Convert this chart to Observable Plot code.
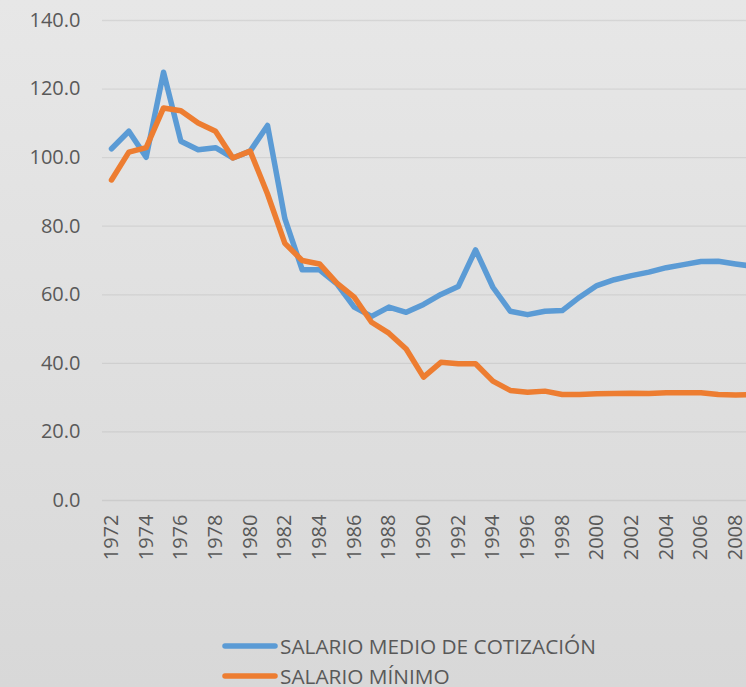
<!DOCTYPE html>
<html>
<head>
<meta charset="utf-8">
<script src="https://cdn.jsdelivr.net/npm/d3@7"></script>
<script src="https://cdn.jsdelivr.net/npm/@observablehq/plot@0.6"></script>
<style>
  html, body { margin: 0; padding: 0; }
  #wrap {
    position: relative; width: 746px; height: 687px; overflow: hidden;
    background: linear-gradient(#e7e7e7, #d8d8d8);
    font-family: "Open Sans", sans-serif;
  }
  #chart { position: absolute; left: 0; top: 0; }
  .legend { position: absolute; left: 222px; color: #595959; font-size: 20.8px; display: flex; align-items: center; white-space: nowrap; line-height: 1; }
  .legend svg { margin-right: 2px; }
</style>
</head>
<body>
<div id="wrap">
  <div id="chart"></div>
</div>
<script>
const years = [1972,1973,1974,1975,1976,1977,1978,1979,1980,1981,1982,1983,1984,1985,1986,1987,1988,1989,1990,1991,1992,1993,1994,1995,1996,1997,1998,1999,2000,2001,2002,2003,2004,2005,2006,2007,2008,2009];
const salarioMedio = [102.6,107.7,100.1,124.9,104.8,102.3,102.9,99.9,101.9,109.4,82.2,67.3,67.3,63.2,56.4,53.7,56.4,54.9,57.2,60.1,62.4,73.1,62.2,55.2,54.2,55.2,55.4,59.3,62.7,64.4,65.6,66.6,67.9,68.8,69.7,69.8,69.0,68.3];
const salarioMinimo = [93.5,101.6,102.9,114.5,113.7,110.1,107.7,99.9,101.9,89.4,75.0,70.0,69.0,63.4,59.3,52.0,48.8,44.2,36.0,40.3,39.9,39.9,34.8,32.1,31.6,31.9,30.9,30.9,31.1,31.2,31.3,31.2,31.4,31.4,31.4,30.9,30.8,30.9];
const seriesNames = ["SALARIO MEDIO DE COTIZACIÓN", "SALARIO MÍNIMO"];
const seriesColors = ["#5b9bd5", "#ed7d31"];
const yTicks = [0,20,40,60,80,100,120,140];
const xTicks = years.filter(y => y % 2 === 0 && y <= 2008);

const data = [];
years.forEach((y, i) => {
  data.push({year: y, value: salarioMedio[i], serie: seriesNames[0]});
  data.push({year: y, value: salarioMinimo[i], serie: seriesNames[1]});
});

const plot = Plot.plot({
  width: 746,
  height: 600,
  marginLeft: 102,
  marginRight: 0,
  marginTop: 20,
  marginBottom: 100,
  style: {background: "transparent", color: "#595959", fontFamily: "Open Sans, sans-serif", overflow: "hidden"},
  x: {type: "linear", domain: [1971.48, 2008.63]},
  y: {domain: [0, 140]},
  color: {domain: seriesNames, range: seriesColors},
  marks: [
    Plot.ruleY(yTicks, {stroke: "#000", strokeOpacity: 0.07, strokeWidth: 1.3}),
    Plot.axisY({ticks: yTicks, tickFormat: d => d.toFixed(1), tickSize: 0, tickPadding: 22, fontSize: 20, label: null}),
    Plot.axisX({ticks: xTicks, tickFormat: d => String(d), tickSize: 0, tickPadding: 14, tickRotate: -90, fontSize: 20, label: null}),
    Plot.line(data, {x: "year", y: "value", z: "serie", stroke: "serie", strokeWidth: 5.5, strokeLinejoin: "round", strokeLinecap: "round", clip: true})
  ]
});
document.getElementById("chart").appendChild(plot);

const wrap = document.getElementById("wrap");
const legendTops = [646, 676];
seriesNames.forEach((name, i) => {
  const div = document.createElement("div");
  div.className = "legend";
  div.style.top = (legendTops[i] - 11) + "px";
  div.style.height = "22px";
  div.innerHTML = `<svg width="56" height="10"><line x1="3" x2="53" y1="5" y2="5" stroke="${seriesColors[i]}" stroke-width="5.5" stroke-linecap="round"/></svg><span>${name}</span>`;
  wrap.appendChild(div);
});
</script>
</body>
</html>
